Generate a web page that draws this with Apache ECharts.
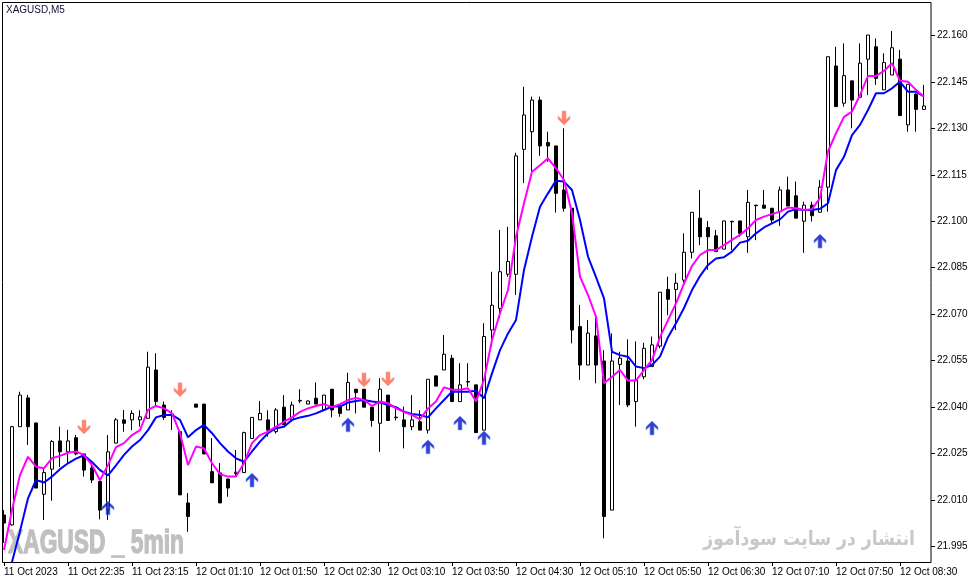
<!DOCTYPE html>
<html><head><meta charset="utf-8">
<script src="https://cdn.jsdelivr.net/npm/echarts@6/dist/echarts.min.js"></script>
<style>html,body{margin:0;padding:0;background:#fff}#c{width:972px;height:584px}</style>
</head><body><div id="c"></div>
<script>
// OHLC as [open, close, low, high]
const ohlc = [
[22.0052,22.0026,21.9962,22.0068],[22.0020,22.0337,22.0018,22.0340],[22.0337,22.0439,22.0337,22.0450],[22.0430,22.0337,22.0278,22.0440],
[22.0349,22.0139,22.0139,22.0350],[22.0119,22.0189,22.0036,22.0204],[22.0200,22.0289,22.0098,22.0294],[22.0291,22.0256,22.0207,22.0337],
[22.0256,22.0291,22.0220,22.0327],[22.0301,22.0249,22.0245,22.0310],[22.0249,22.0197,22.0176,22.0249],[22.0204,22.0165,22.0155,22.0220],
[22.0160,22.0068,22.0038,22.0160],[22.0068,22.0256,22.0036,22.0310],[22.0284,22.0359,22.0284,22.0365],[22.0359,22.0348,22.0321,22.0391],
[22.0359,22.0380,22.0326,22.0390],[22.0359,22.0369,22.0337,22.0390],[22.0364,22.0529,22.0364,22.0579],[22.0520,22.0418,22.0402,22.0574],
[22.0407,22.0367,22.0359,22.0418],[22.0378,22.0375,22.0326,22.0390],[22.0321,22.0117,22.0117,22.0321],[22.0091,22.0047,21.9998,22.0123],
[22.0410,22.0400,22.0400,22.0410],[22.0410,22.0249,22.0249,22.0410],[22.0192,22.0156,22.0155,22.0300],[22.0188,22.0091,22.0091,22.0220],
[22.0168,22.0139,22.0111,22.0170],[22.0186,22.0190,22.0175,22.0262],[22.0189,22.0318,22.0189,22.0321],[22.0299,22.0367,22.0299,22.0367],
[22.0359,22.0380,22.0359,22.0420],[22.0359,22.0326,22.0305,22.0390],[22.0321,22.0391,22.0315,22.0397],[22.0400,22.0343,22.0343,22.0439],
[22.0359,22.0407,22.0353,22.0418],[22.0420,22.0422,22.0413,22.0458],[22.0410,22.0420,22.0410,22.0422],[22.0429,22.0410,22.0410,22.0480],
[22.0391,22.0439,22.0391,22.0439],[22.0458,22.0391,22.0367,22.0458],[22.0407,22.0380,22.0369,22.0407],[22.0391,22.0480,22.0391,22.0511],
[22.0458,22.0447,22.0380,22.0458],[22.0458,22.0400,22.0400,22.0458],[22.0400,22.0357,22.0337,22.0400],[22.0348,22.0458,22.0256,22.0494],
[22.0439,22.0357,22.0357,22.0439],[22.0366,22.0368,22.0357,22.0400],[22.0359,22.0337,22.0267,22.0402],[22.0337,22.0359,22.0326,22.0439],
[22.0353,22.0326,22.0326,22.0390],[22.0326,22.0490,22.0315,22.0490],[22.0501,22.0468,22.0468,22.0501],[22.0520,22.0571,22.0520,22.0633],
[22.0558,22.0418,22.0418,22.0569],[22.0418,22.0472,22.0418,22.0542],[22.0481,22.0483,22.0466,22.0542],[22.0472,22.0318,22.0318,22.0472],
[22.0326,22.0628,22.0326,22.0671],[22.0649,22.0729,22.0595,22.0837],[22.0719,22.0837,22.0687,22.0972],[22.0829,22.0870,22.0821,22.0982],
[22.0829,22.1211,22.0762,22.1221],[22.1232,22.1343,22.1123,22.1434],[22.1289,22.1391,22.1160,22.1402],[22.1391,22.1243,22.1211,22.1402],
[22.1254,22.1243,22.1192,22.1289],[22.1243,22.1090,22.1028,22.1243],[22.1101,22.1042,22.1031,22.1300],[22.1042,22.0649,22.0606,22.1042],
[22.0660,22.0536,22.0488,22.0730],[22.0536,22.0639,22.0536,22.0681],[22.0630,22.0536,22.0477,22.0697],[22.0549,22.0047,21.9977,22.0584],
[22.0068,22.0549,22.0068,22.0638],[22.0538,22.0558,22.0407,22.0579],[22.0549,22.0407,22.0400,22.0619],[22.0418,22.0488,22.0337,22.0612],
[22.0498,22.0590,22.0490,22.0608],[22.0531,22.0601,22.0531,22.0628],[22.0597,22.0771,22.0590,22.0771],[22.0780,22.0748,22.0697,22.0821],
[22.0780,22.0800,22.0649,22.0832],[22.0810,22.0900,22.0800,22.0961],[22.0900,22.1029,22.0880,22.1029],[22.1010,22.0950,22.0923,22.1101],
[22.0980,22.0950,22.0843,22.1001],[22.0953,22.0902,22.0902,22.0972],[22.0910,22.1001,22.0910,22.1001],[22.0998,22.1000,22.0907,22.1001],
[22.1001,22.0961,22.0950,22.1001],[22.0950,22.1061,22.0898,22.1101],[22.1050,22.1052,22.0939,22.1052],[22.1052,22.1042,22.1042,22.1101],
[22.1042,22.1004,22.0993,22.1042],[22.1031,22.1101,22.0985,22.1112],[22.1101,22.1049,22.1049,22.1144],[22.1082,22.1010,22.1010,22.1128],
[22.1000,22.1052,22.0898,22.1063],[22.1052,22.1018,22.0999,22.1063],[22.1029,22.1110,22.1029,22.1133],[22.1110,22.1531,22.1031,22.1531],
[22.1501,22.1370,22.1370,22.1563],[22.1381,22.1470,22.1370,22.1574],[22.1453,22.1391,22.1300,22.1453],[22.1400,22.1510,22.1400,22.1574],
[22.1523,22.1601,22.1407,22.1601],[22.1563,22.1461,22.1440,22.1590],[22.1424,22.1512,22.1424,22.1542],[22.1472,22.1560,22.1472,22.1614],
[22.1523,22.1341,22.1341,22.1553],[22.1311,22.1442,22.1289,22.1442],[22.1410,22.1361,22.1289,22.1413],[22.1361,22.1372,22.1361,22.1440]
];
const fastMA = [
21.9939,22.0068,22.0181,22.0240,22.0208,22.0203,22.0235,22.0243,22.0253,22.0257,22.0245,22.0213,22.0164,22.0213,22.0271,22.0284,
22.0310,22.0326,22.0391,22.0404,22.0396,22.0380,22.0316,22.0213,22.0273,22.0267,22.0219,22.0184,22.0176,22.0176,22.0219,22.0284,
22.0310,22.0321,22.0337,22.0353,22.0367,22.0385,22.0396,22.0404,22.0410,22.0400,22.0410,22.0423,22.0430,22.0423,22.0404,22.0418,
22.0413,22.0396,22.0385,22.0375,22.0361,22.0396,22.0418,22.0464,22.0456,22.0456,22.0461,22.0418,22.0488,22.0617,22.0703,22.0778,
22.0950,22.1058,22.1160,22.1181,22.1203,22.1171,22.1133,22.1026,22.0821,22.0762,22.0692,22.0477,22.0498,22.0520,22.0486,22.0486,
22.0520,22.0552,22.0626,22.0681,22.0735,22.0799,22.0856,22.0891,22.0907,22.0907,22.0923,22.0940,22.0956,22.0977,22.1004,22.1015,
22.1023,22.1031,22.1044,22.1042,22.1036,22.1039,22.1075,22.1225,22.1284,22.1337,22.1354,22.1407,22.1469,22.1469,22.1485,22.1510,
22.1453,22.1450,22.1424,22.1402
];
const slowMA = [
21.9750,21.9900,22.0000,22.0106,22.0165,22.0157,22.0176,22.0200,22.0219,22.0234,22.0245,22.0223,22.0197,22.0180,22.0212,22.0246,
22.0273,22.0294,22.0326,22.0367,22.0375,22.0375,22.0359,22.0303,22.0326,22.0343,22.0316,22.0284,22.0257,22.0235,22.0224,22.0257,
22.0289,22.0316,22.0332,22.0337,22.0359,22.0367,22.0372,22.0380,22.0391,22.0402,22.0402,22.0415,22.0420,22.0423,22.0418,22.0415,
22.0407,22.0400,22.0385,22.0378,22.0375,22.0367,22.0396,22.0423,22.0450,22.0450,22.0450,22.0453,22.0429,22.0509,22.0584,22.0638,
22.0681,22.0843,22.0950,22.1047,22.1090,22.1131,22.1128,22.1101,22.1004,22.0886,22.0820,22.0751,22.0579,22.0568,22.0563,22.0531,
22.0526,22.0536,22.0563,22.0626,22.0671,22.0720,22.0778,22.0823,22.0859,22.0880,22.0884,22.0902,22.0931,22.0937,22.0961,22.0980,
22.0993,22.1006,22.1031,22.1039,22.1036,22.1036,22.1040,22.1058,22.1165,22.1208,22.1278,22.1311,22.1359,22.1413,22.1413,22.1429,
22.1450,22.1418,22.1418,22.1402
];
const sellArrows = [[10,22.0336],[22,22.0456],[45,22.0488],[48,22.0491],[70,22.1333]];
const buyArrows = [[13,22.0075],[31,22.0165],[43,22.0343],[53,22.0272],[57,22.0349],[60,22.0301],[81,22.0333],[102,22.0936]];
const xLabels = ['11 Oct 2023','11 Oct 22:35','11 Oct 23:15','12 Oct 01:10','12 Oct 01:50','12 Oct 02:30','12 Oct 03:10',
  '12 Oct 03:50','12 Oct 04:30','12 Oct 05:10','12 Oct 05:50','12 Oct 06:30','12 Oct 07:10','12 Oct 07:50','12 Oct 08:30'];
const yTicks = [21.995,22.010,22.025,22.040,22.055,22.070,22.085,22.100,22.115,22.130,22.145,22.160];

const categories = ohlc.map((d, i) => String(i));
const FONT = 'Liberation Sans';
const upPath = 'path://M6,0 L12,6 L12,9 L8,5.5 L8,14 L4,14 L4,5.5 L0,9 L0,6 Z';
const downPath = 'path://M6,14 L12,8 L12,5 L8,8.5 L8,0 L4,0 L4,8.5 L0,5 L0,8 Z';
const every8 = (i) => i % 8 === 0;

const chart = echarts.init(document.getElementById('c'), null, {renderer: 'canvas'});
chart.setOption({
  animation: false,
  backgroundColor: '#ffffff',
  grid: {left: 0, top: 2, width: 928, height: 560, containLabel: false},
  xAxis: {
    type: 'category', data: categories, boundaryGap: true,
    axisLine: {show: false},
    axisTick: {show: true, alignWithLabel: true, interval: every8, length: 4, lineStyle: {color: '#000'}},
    axisLabel: {interval: every8, formatter: (v, i) => xLabels[i / 8] || '', align: 'left',
      fontSize: 10, color: '#000', margin: 5, fontFamily: FONT},
    splitLine: {show: false}
  },
  yAxis: {
    type: 'value', position: 'right', offset: 3,
    min: 21.99004, max: 22.17075, scale: true,
    axisLine: {show: false},
    axisTick: {show: true, length: 4, customValues: yTicks, lineStyle: {color: '#000'}},
    axisLabel: {customValues: yTicks, formatter: v => v.toFixed(3), fontSize: 10, color: '#000', margin: 6, fontFamily: FONT},
    splitLine: {show: false}
  },
  graphic: [
    {type: 'rect', shape: {x: 2.5, y: 2.5, width: 928.5, height: 560}, style: {fill: 'none', stroke: '#000', lineWidth: 1}, z: 100, silent: true},
    {type: 'text', x: 6, y: 5, style: {text: 'XAGUSD,M5', font: '10px "Liberation Sans"', fill: '#10103a'}, z: 100},
    {type: 'text', x: 8, y: 527, scaleX: 0.69, style: {text: 'XAGUSD _ 5min', font: 'bold 33px "Liberation Sans"', fill: '#c0c0c0', stroke: '#c0c0c0', lineWidth: 1.4}, z: 0},
    {type: 'text', x: 915, y: 530, scaleX: 0.86, style: {text: 'انتشار در سایت سودآموز', font: 'bold 20px "DejaVu Sans"', fill: '#c8c8c8', align: 'right'}, z: 0}
  ],
  series: [
    {type: 'candlestick', data: ohlc, barWidth: 4, z: 2,
      itemStyle: {color: '#ffffff', color0: '#000000', borderColor: '#000000', borderColor0: '#000000', borderWidth: 1}},
    {type: 'line', data: slowMA, symbol: 'none', smooth: false, z: 3, lineStyle: {color: '#0000ff', width: 2}},
    {type: 'line', data: fastMA, symbol: 'none', smooth: false, z: 4, lineStyle: {color: '#ff00ff', width: 2}},
    {type: 'scatter', data: sellArrows, symbol: downPath, symbolSize: [12, 14], z: 5,
      itemStyle: {color: '#ff6048', borderColor: '#ffa898', borderWidth: 0.8}},
    {type: 'scatter', data: buyArrows, symbol: upPath, symbolSize: [12, 14], z: 5,
      itemStyle: {color: '#0c0cc0', borderColor: '#6fa8ff', borderWidth: 0.8}}
  ]
});
</script></body></html>
